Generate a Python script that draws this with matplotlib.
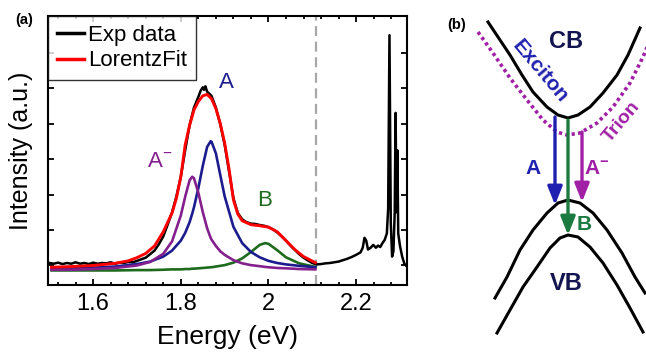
import matplotlib
matplotlib.use('Agg')
import matplotlib.pyplot as plt
from matplotlib.ticker import MultipleLocator, FixedLocator

plt.rcParams['font.family'] = ['Liberation Sans', 'DejaVu Sans']
plt.rcParams['mathtext.fontset'] = 'custom'
plt.rcParams['mathtext.rm'] = 'Liberation Sans'
plt.rcParams['mathtext.bf'] = 'Liberation Sans:bold'

#-------------------------------------------------------------------------------
# DATA (a): PL spectrum, intensity in arbitrary units

#experimental spectrum
E_exp = [1.501, 1.51, 1.52, 1.53, 1.54, 1.55, 1.56, 1.57, 1.58, 1.59, 1.60,
         1.61, 1.62, 1.63, 1.64, 1.65, 1.66, 1.67, 1.68, 1.69, 1.70, 1.72,
         1.74, 1.75, 1.76, 1.77, 1.78, 1.79, 1.80, 1.81, 1.82, 1.83, 1.84,
         1.845, 1.85, 1.853, 1.856, 1.86, 1.87, 1.88, 1.89, 1.90, 1.91, 1.92,
         1.93, 1.94, 1.95, 1.96, 1.97, 1.98, 1.99, 2.00, 2.01, 2.02, 2.03,
         2.04, 2.05, 2.06, 2.07, 2.08, 2.09, 2.10, 2.11, 2.12, 2.13, 2.14,
         2.15, 2.16, 2.17, 2.18, 2.19, 2.20, 2.21, 2.215, 2.219, 2.223,
         2.227, 2.233, 2.239, 2.245, 2.25, 2.255, 2.26, 2.265, 2.27, 2.273,
         2.276, 2.279, 2.282, 2.285, 2.288, 2.29, 2.292, 2.294, 2.296, 2.30,
         2.305, 2.31, 2.315]
I_exp = [0.07, 0.05, 0.08, 0.04, 0.07, 0.05, 0.09, 0.05, 0.07, 0.04, 0.08,
         0.05, 0.07, 0.06, 0.09, 0.05, 0.08, 0.07, 0.10, 0.09, 0.13, 0.22,
         0.42, 0.60, 0.82, 1.15, 1.50, 1.95, 2.50, 3.25, 3.95, 4.45, 4.75,
         4.92, 5.02, 4.95, 5.05, 4.90, 4.78, 4.45, 3.98, 3.40, 2.65, 1.90,
         1.48, 1.30, 1.22, 1.18, 1.17, 1.14, 1.12, 1.08, 1.02, 0.93, 0.82,
         0.70, 0.56, 0.44, 0.32, 0.22, 0.14, 0.07, 0.03, 0.04, 0.06, 0.07,
         0.09, 0.11, 0.15, 0.19, 0.24, 0.30, 0.37, 0.50, 0.78, 0.70,
         0.45, 0.50, 0.58, 0.50, 0.56, 0.52, 0.63, 0.72, 0.90, 1.60,
         6.49, 1.20, 0.25, 0.40, 1.50, 4.30, 1.50, 3.25, 0.90, 0.55,
         0.25, 0.05, -0.02]

#total Lorentz fit
E_fit = [1.505, 1.55, 1.60, 1.65, 1.68, 1.70, 1.72, 1.74, 1.76, 1.78, 1.79,
         1.80, 1.81, 1.82, 1.83, 1.84, 1.85, 1.86, 1.87, 1.88, 1.89, 1.90,
         1.91, 1.92, 1.93, 1.94, 1.96, 1.98, 2.00, 2.02, 2.04, 2.06, 2.08,
         2.107]
I_fit = [-0.05, -0.03, 0.00, 0.06, 0.13, 0.22, 0.34, 0.55, 0.95, 1.48, 1.90,
         2.50, 3.40, 3.95, 4.38, 4.62, 4.78, 4.82, 4.70, 4.42, 4.00, 3.45,
         2.72, 1.85, 1.45, 1.26, 1.15, 1.12, 1.08, 0.95, 0.70, 0.45, 0.25,
         0.08]

#fit components: A exciton, A- trion, B exciton
E_cmp = [1.505, 1.55, 1.60, 1.65, 1.70, 1.73, 1.76, 1.78, 1.80, 1.81, 1.82,
         1.826, 1.83, 1.84, 1.85, 1.86, 1.868, 1.87, 1.88, 1.89, 1.90, 1.92,
         1.94, 1.96, 1.98, 1.992, 2.00, 2.02, 2.04, 2.07, 2.107]
I_A = [-0.09, -0.08, -0.06, -0.03, 0.04, 0.11, 0.25, 0.42, 0.70, 0.92, 1.22,
       1.46, 1.64, 2.18, 2.80, 3.34, 3.50, 3.49, 3.16, 2.55, 1.95, 1.09,
       0.63, 0.38, 0.23, 0.17, 0.13, 0.07, 0.03, -0.01, -0.05]
I_Am = [-0.12, -0.12, -0.10, -0.07, 0.00, 0.10, 0.33, 0.68, 1.41, 1.94, 2.40,
        2.50, 2.46, 2.05, 1.51, 1.05, 0.78, 0.73, 0.55, 0.40, 0.30, 0.15,
        0.06, 0.01, -0.02, -0.04, -0.05, -0.07, -0.08, -0.10, -0.11]
I_B = [-0.14, -0.14, -0.14, -0.14, -0.13, -0.13, -0.12, -0.11, -0.11, -0.10, -0.10,
       -0.09, -0.09, -0.08, -0.07, -0.06, -0.05, -0.05, -0.03, -0.01, 0.01, 0.08,
       0.20, 0.38, 0.58, 0.63, 0.61, 0.43, 0.23, 0.06, -0.04]

#end of fitting window
E_cut = 2.108

xticks = [1.6, 1.8, 2.0, 2.2]
xticklabels = ['1.6', '1.8', '2', '2.2']

#-------------------------------------------------------------------------------
# DATA (b): band schematic, in picture pixel units (y down)

cb_x = [488, 498, 510, 522, 533, 547, 558, 568, 578, 590, 603, 617, 628, 640]
cb_y = [22, 37, 55, 75, 92, 107, 115, 118, 115, 107, 93, 75, 55, 28]

tr_x = [478, 493, 510, 527, 543, 557, 567, 580, 597, 613, 630, 643, 650]
tr_y = [32, 53, 78, 100, 120, 132, 135, 133, 123, 107, 83, 57, 40]

vb1_x = [495, 507, 520, 533, 547, 558, 568, 580, 593, 607, 622, 635, 645]
vb1_y = [298, 277, 250, 230, 213, 203, 200, 203, 213, 230, 253, 277, 293]

vb2_x = [497, 510, 523, 537, 550, 560, 568, 578, 590, 603, 617, 630, 643]
vb2_y = [333, 310, 287, 267, 248, 238, 235, 237, 247, 263, 285, 308, 332]

#transitions: (x, y top, y tip)
arr_A = (555, 117, 205)
arr_B = (568, 120, 235)
arr_Am = (582, 132, 202)

#-------------------------------------------------------------------------------
# COLOURS

c_A = '#1c1c8e'
c_Am = '#84208e'
c_B = '#1e6b1e'
c_A2 = '#2020b0'
c_Am2 = '#a020a6'
c_B2 = '#1a7a40'

#-------------------------------------------------------------------------------
# PLOT

fig = plt.figure(figsize=(6.46, 3.54), dpi=100)

ax = fig.add_axes([48/646, 1-285/354, (407-48)/646, (285-16)/354])
ax.plot(E_exp, I_exp, color='k', lw=1.8, label='Exp data', zorder=2)
ax.plot(E_cmp, I_B, color=c_B, lw=1.9, zorder=3)
ax.plot(E_cmp, I_A, color=c_A, lw=1.9, zorder=3)
ax.plot(E_cmp, I_Am, color=c_Am, lw=1.9, zorder=3)
ax.plot(E_fit, I_fit, color='#ff0000', lw=2.1, label='LorentzFit', zorder=4)
ax.axvline(E_cut, color='#a8a8a8', lw=1.6, ls=(0, (4.5, 2.5)), zorder=1)

ax.text(1.903, 5.17, 'A', color=c_A, fontsize=16, ha='center', va='center')
ax.text(1.752, 2.94, r'A$^{-}$', color=c_Am, fontsize=16, ha='center', va='center')
ax.text(1.99, 1.84, 'B', color=c_B, fontsize=16, ha='center', va='center')

ax.set_xlim(1.497, 2.316)
ax.set_ylim(-0.55, 7.03)
ax.xaxis.set_major_locator(FixedLocator(xticks))
ax.set_xticklabels(xticklabels)
ax.xaxis.set_minor_locator(MultipleLocator(0.04))
ax.yaxis.set_major_locator(FixedLocator(range(0, 7)))
ax.set_yticklabels([])
ax.tick_params(which='both', direction='in', top=True, right=True, width=1.3)
ax.tick_params(which='major', length=4, labelsize=17, pad=6)
ax.tick_params(which='minor', length=2.5)
for s in ax.spines.values():
    s.set_linewidth(1.5)
ax.set_xlabel('Energy (eV)', fontsize=19, labelpad=7)
ax.set_ylabel('Intensity (a.u.)', fontsize=18, labelpad=5)

leg = ax.legend(loc='upper left', fontsize=16, frameon=True, fancybox=False,
                borderaxespad=0, handlelength=1.2, handletextpad=0.2,
                labelspacing=0.2, borderpad=0.4)
leg.get_frame().set_edgecolor('k')
leg.get_frame().set_linewidth(1.0)
for l in leg.get_lines():
    l.set_linewidth(2.5)

fig.text(24/646, 1-20/354, '(a)', fontsize=10.5, fontweight='bold', ha='center', va='center')

#band schematic
bx = fig.add_axes([430/646, 0, 216/646, 1])
bx.set_xlim(430, 646)
bx.set_ylim(354, 0)
bx.axis('off')
bx.plot(cb_x, cb_y, color='k', lw=2.2, clip_on=False)
bx.plot(vb1_x, vb1_y, color='k', lw=2.2, clip_on=False)
bx.plot(vb2_x, vb2_y, color='k', lw=2.2, clip_on=False)
bx.plot(tr_x, tr_y, color=c_Am2, lw=2.6, ls=(0, (0.9, 0.9)), clip_on=False)

for (x, y0, y1), c in zip([arr_A, arr_B, arr_Am], [c_A2, c_B2, c_Am2]):
    bx.annotate('', xy=(x, y1), xytext=(x, y0),
                arrowprops=dict(arrowstyle='-|>,head_length=0.55,head_width=0.22',
                                lw=2.4, color=c, shrinkA=0, shrinkB=0,
                                mutation_scale=20))

bx.text(566, 42, 'CB', fontsize=17, fontweight='bold', color='#141450', ha='center', va='center')
bx.text(566, 283, 'VB', fontsize=17, fontweight='bold', color='#141450', ha='center', va='center')
bx.text(540, 71, 'Exciton', fontsize=15, fontweight='bold', color=c_A2,
        ha='center', va='center', rotation=-50, rotation_mode='anchor')
bx.text(606, 140, 'Trion', fontsize=14, fontweight='bold', color=c_Am2,
        ha='left', va='center', rotation=50, rotation_mode='anchor', clip_on=False)
bx.text(533, 168, 'A', fontsize=15, fontweight='bold', color=c_A2, ha='center', va='center')
bx.text(597, 168, r'$\mathbf{A^{-}}$', fontsize=15, color=c_Am2, ha='center', va='center')
bx.text(584, 225, 'B', fontsize=15, fontweight='bold', color=c_B2, ha='center', va='center')
bx.text(457, 25, '(b)', fontsize=10.5, fontweight='bold', ha='center', va='center')

fig.savefig('out.png', dpi=100)
